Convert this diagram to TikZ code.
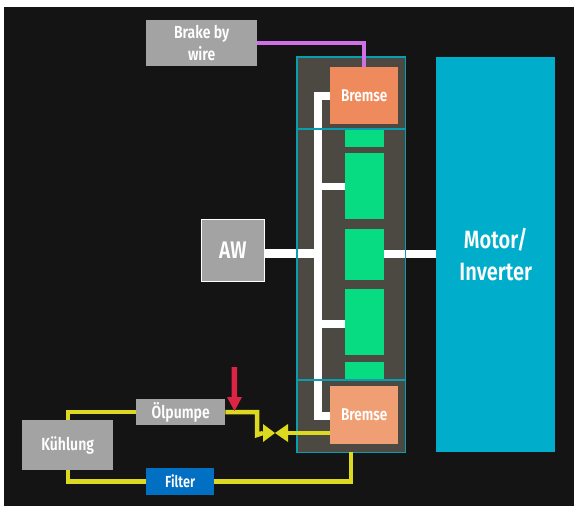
\documentclass[tikz,border=0pt]{standalone}
\usepackage{fontspec}
\setmainfont[FakeStretch=0.8,BoldFont={Fira Sans SemiBold},BoldFeatures={FakeStretch=0.8}]{Fira Sans}
\usetikzlibrary{calc}
\definecolor{bgc}{HTML}{141414}
\definecolor{panelc}{HTML}{4B4942}
\definecolor{tealc}{HTML}{0A9DB0}
\definecolor{greyc}{HTML}{A3A3A3}
\definecolor{oranA}{HTML}{EF8A5C}
\definecolor{oranB}{HTML}{F09F74}
\definecolor{greenc}{HTML}{08DC82}
\definecolor{motorc}{HTML}{00AECB}
\definecolor{bluec}{HTML}{0270C2}
\definecolor{yellowc}{HTML}{DDD820}
\definecolor{purplec}{HTML}{D070E8}
\definecolor{redc}{HTML}{DC2444}
\tikzset{
 x=1pt,y=-1pt,
 box/.style n args={5}{draw=none,fill=#5,inner sep=0pt,anchor=north west,minimum width=#3 pt-#1 pt,minimum height=#4 pt-#2 pt,text=white,align=center,at={(#1,#2)}},
 lbl/.style={font=\fontsize{#1}{#1}\selectfont\bfseries},
 bus/.style={draw=white,line width=8pt,line join=miter},
 oil/.style={draw=yellowc,line width=4.5pt,line join=miter},
 wire/.style={draw=purplec,line width=3.5pt,line join=miter},
 valve/.style={fill=yellowc,draw=none},
 frameline/.style={draw=tealc,line width=1.2pt},
}
\begin{document}
\begin{tikzpicture}
\useasboundingbox (0,0) rectangle (574,506);
\fill[white] (0,0) rectangle (574,506);
\fill[bgc] (4,7) rectangle (574,506);
% panel
\node[box={297}{57}{405}{452}{panelc}] (panel) {};
% green
\node[box={345}{129}{384}{147}{greenc}] (g1) {};
\node[box={345}{153}{384}{219}{greenc}] (g2) {};
\node[box={345}{229}{384}{280}{greenc}] (g3) {};
\node[box={345}{289}{384}{355}{greenc}] (g4) {};
\node[box={345}{362}{384}{380}{greenc}] (g5) {};
% boxes
\node[box={330}{67}{398}{124}{oranA},lbl=17] (b1) {Bremse};
\node[box={330}{386}{398}{444}{oranB},lbl=17] (b2) {Bremse};
\node[box={436}{57}{555}{452}{motorc},lbl=25] (motor) {Motor/\\[7pt]Inverter};
\node[box={201}{219}{264}{281}{greyc},draw=white,line width=0.9pt,lbl=24] (aw) {AW};
\node[box={146}{20}{257}{66}{greyc},lbl=17.5] (bbw) {Brake by\\[3pt]wire};
\node[box={136}{399}{225}{425}{greyc},lbl=17.5] (oel) {Ölpumpe};
\node[box={22}{420}{113}{470}{greyc},lbl=17.5] (kuehl) {Kühlung};
\node[box={146}{468}{214}{495}{bluec},lbl=16] (filter) {Filter};
% white bus
\coordinate (bt) at (318,96);
\coordinate (bb) at (318,416);
\draw[bus] (b1.west |- bt) -- (bt) -- (bb) -- (b2.west |- bb);
\draw[bus,line width=7.5pt] (bt |- 0,186.5) -- (g2.west |- 0,186.5);
\draw[bus,line width=7.5pt] (bt |- 0,324) -- (g4.west |- 0,324);
\draw[bus,line width=9pt] (aw.east |- 0,253) -- (bt |- 0,253);
\draw[bus] (g3.east |- 0,254) -- (motor.west |- 0,254);
% frame lines over the panel
\draw[frameline] (panel.north west) rectangle (panel.south east);
\draw[frameline] (panel.west |- 0,129) -- (panel.east |- 0,129);
\draw[frameline] (panel.west |- 0,380) -- (panel.east |- 0,380);
% brake by wire
\draw[wire] (bbw.east |- 0,43) -- (364,43) -- (b1.north -| 364,0);
% oil
\coordinate (vc) at (275,433);
\coordinate (vl) at (263,433);
\coordinate (vr) at (288,433);
\draw[oil] (kuehl.north -| 68,0) -- (68,412) -- (oel.west |- 0,412);
\draw[oil] (oel.east |- 0,412) -- (257,412) -- (257,435) -- (vl);
\draw[oil] (vr) -- (b2.west |- vr);
\draw[oil] (kuehl.south -| 68,0) -- (68,481.5) -- (filter.west |- 0,481.5);
\draw[oil] (filter.east |- 0,481.5) -- (351,481.5) -- (panel.south -| 351,0);
\fill[valve] (263,424) -- (vc) -- (263,442) -- cycle;
\fill[valve] (288,424) -- (vc) -- (288,442) -- cycle;
% red arrow
\fill[redc] (231.5,367) -- (237,367) -- (237,397) -- (242,397) -- (234.5,411) -- (227,397) -- (231.5,397) -- cycle;
\end{tikzpicture}
\end{document}
